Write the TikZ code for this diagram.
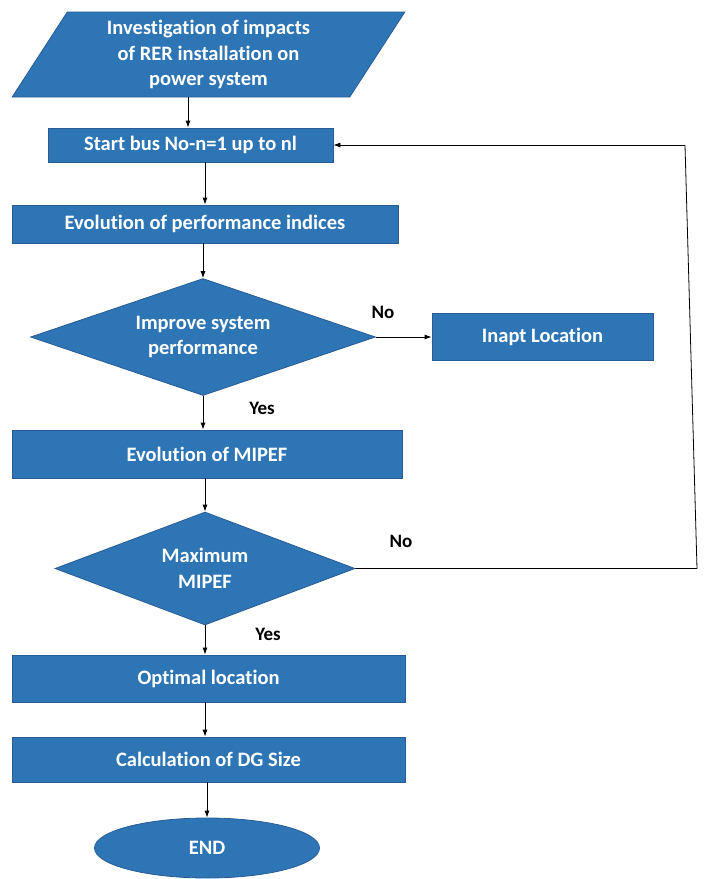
\documentclass[tikz,border=0pt]{standalone}
\usepackage{fontspec}
\setmainfont[Ligatures=NoCommon]{Carlito}
\usetikzlibrary{shapes.geometric,arrows.meta}
\definecolor{boxblue}{RGB}{46,117,182}
\definecolor{boxedge}{RGB}{40,92,150}
\tikzset{
  blk/.style={fill=boxblue,draw=boxedge,line width=0.8pt,text=white,font=\fontsize{20.5}{25.5}\selectfont\bfseries,align=center,inner sep=0pt},
  proc/.style={blk,rectangle},
  dec/.style={blk,diamond},
  lbl/.style={font=\fontsize{19}{22}\selectfont\bfseries,text=black,inner sep=0pt},
  arr/.style={-{Latex[length=7pt,width=5pt]},line width=0.8pt},
  ln/.style={line width=0.8pt}
}
\begin{document}
\begin{tikzpicture}[x=1pt,y=-1pt]
\useasboundingbox (0,0) rectangle (708,879);
\node[blk,trapezium,trapezium left angle=60,trapezium right angle=120,trapezium stretches=true,minimum width=393,minimum height=85] (inv) at (208.5,54.5) {Investigation of impacts\\of RER installation on\\power system};
\node[proc,minimum width=285,minimum height=34] (start) at (190.5,145) {Start bus No-n=1 up to nl};
\node[proc,minimum width=386,minimum height=38] (evp) at (205,224) {Evolution of performance indices};
\node[dec,aspect=2.95,minimum width=345,minimum height=117] (imp) at (203,337) {Improve system\\performance};
\node[proc,minimum width=221,minimum height=47] (inapt) at (542.5,336.5) {Inapt Location};
\node[proc,minimum width=390,minimum height=48] (evm) at (207,454) {Evolution of MIPEF};
\node[dec,aspect=2.65,minimum width=300,minimum height=113] (max) at (205,568.5) {Maximum\\MIPEF};
\node[proc,minimum width=393,minimum height=47] (opt) at (208.5,678.5) {Optimal location};
\node[proc,minimum width=393,minimum height=45] (calc) at (208.5,759.5) {Calculation of DG Size};
\node[blk,ellipse,minimum width=225,minimum height=60] (endn) at (207,848) {END};
\coordinate (c1) at (697,568.5);
\coordinate (c2) at (685,145);
\draw[arr] (inv.south -| 188,0) -- (start.north -| 188,0);
\draw[arr] (start.south -| evp.north) -- (evp.north);
\draw[arr] (evp.south -| imp.north) -- (imp.north);
\draw[arr] (imp.east) -- (inapt.west |- imp.east);
\draw[arr] (imp.south) -- (imp.south |- evm.north);
\draw[arr] (evm.south -| max.north) -- (max.north);
\draw[arr] (max.south) -- (max.south |- opt.north);
\draw[arr] (opt.south -| 205,0) -- (calc.north -| 205,0);
\draw[arr] (calc.south -| endn.north) -- (endn.north);
\draw[ln] (max.east) -- (c1) -- (c2);
\draw[arr] (c2) -- (start.east);
\node[lbl] (no1) at (383,312) {No};
\node[lbl] (yes1) at (262,408) {Yes};
\node[lbl] (no2) at (401,541) {No};
\node[lbl] (yes2) at (268,634) {Yes};
\end{tikzpicture}
\end{document}
